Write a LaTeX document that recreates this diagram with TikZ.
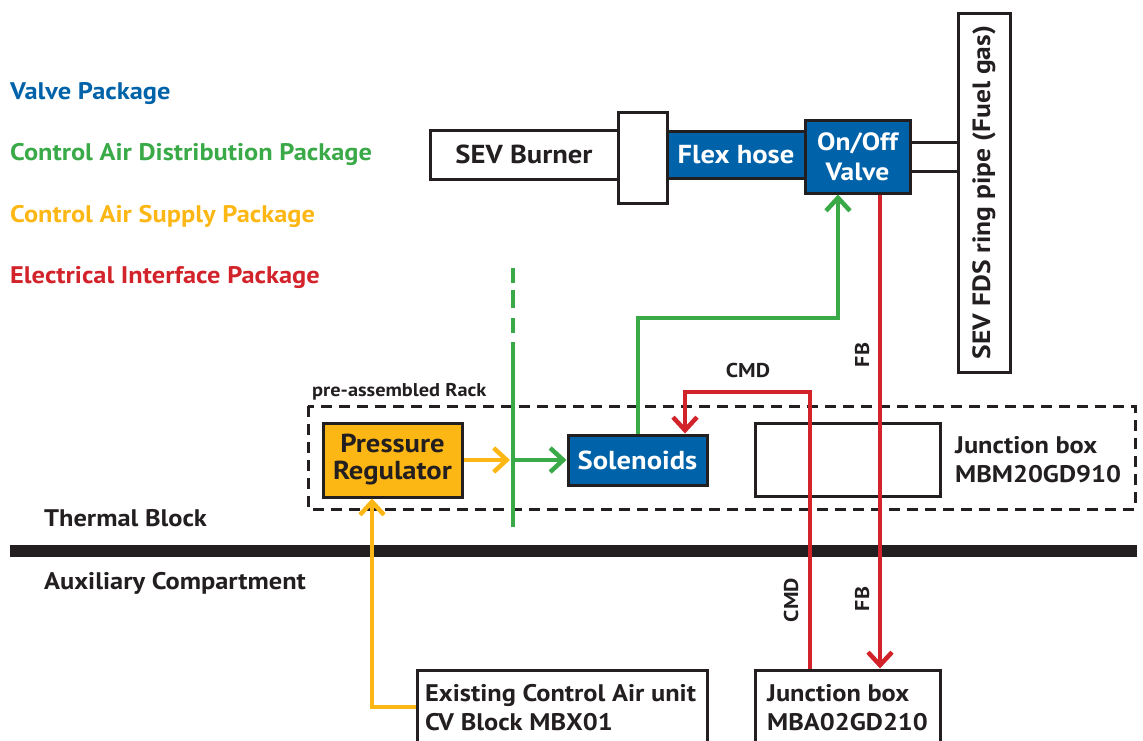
\documentclass[tikz,border=0pt]{standalone}
\usepackage{fontspec}
\setmainfont{PT Sans}[FakeStretch=1.1]
\usetikzlibrary{arrows.meta,calc}
\definecolor{vblue}{HTML}{0062A8}
\definecolor{cgreen}{HTML}{3AAA48}
\definecolor{corange}{HTML}{FDB714}
\definecolor{cred}{HTML}{D2232A}
\definecolor{ink}{HTML}{231F20}
\tikzset{
  box/.style={draw=ink,line width=3pt,inner sep=0pt,font=\bfseries\fontsize{26}{28}\selectfont,text=ink,align=center},
  bluebox/.style={box,fill=vblue,text=white},
  lbl/.style={font=\bfseries\fontsize{24}{29}\selectfont,text=ink,inner sep=0pt,align=left},
  small/.style={font=\bfseries\fontsize{20}{22}\selectfont,text=ink,inner sep=0pt},
  legend/.style={font=\bfseries\fontsize{24}{26}\selectfont,inner sep=0pt,anchor=base west},
  conn/.style={line width=4.5pt},
  tip/.style={-{Straight Barb[length=13pt,width=24pt,line width=4.5pt]}}
}
\begin{document}
\begin{tikzpicture}[x=1pt,y=-1pt]
\useasboundingbox (0,0) rectangle (1143,740);
% legend
\node[legend,text=vblue] (l1) at (10,99) {Valve Package};
\node[legend,text=cgreen] (l2) at (10,160) {Control Air Distribution Package};
\node[legend,text=corange] (l3) at (10,222) {Control Air Supply Package};
\node[legend,text=cred] (l4) at (10,283) {Electrical Interface Package};
% top row
\node[box,fill=white,minimum width=192pt,minimum height=49pt] (burner) at (526,154.5) {\hspace*{-4pt}SEV Burner};
\node[box,fill=white,minimum width=49pt,minimum height=91pt] (flange) at (642.5,157.5) {};
\node[bluebox,minimum width=138pt,minimum height=47pt] (hose) at (736,154.5) {Flex hose};
\node[box,fill=white,minimum width=52pt,minimum height=359pt] (ring) at (984,192.5) {};
\node[font=\bfseries\fontsize{25}{27}\selectfont,text=ink,rotate=90] (ringt) at (ring.center) {SEV FDS ring pipe (Fuel gas)};
\coordinate (p1) at (910,142);
\coordinate (p2) at (910,171);
\draw[draw=ink,line width=3pt] (p1) -- (p1 -| ring.west);
\draw[draw=ink,line width=3pt] (p2) -- (p2 -| ring.west);
\node[bluebox,minimum width=105pt,minimum height=73pt,font=\bfseries\fontsize{25}{30}\selectfont] (valve) at (857.5,156.5) {On/Off\\Valve};
% rack
\draw[draw=ink,line width=3pt,dash pattern=on 11pt off 7pt] (308,406) rectangle (1135,509);
\node[small,anchor=base west,font=\bfseries\fontsize{18.5}{20}\selectfont] (racklbl) at (312,396) {pre-assembled Rack};
\node[box,fill=corange,minimum width=139pt,minimum height=74pt,font=\bfseries\fontsize{26}{27}\selectfont] (reg) at (392.5,460) {Pressure\\Regulator};
\node[bluebox,minimum width=139pt,minimum height=50pt] (sol) at (637.5,460) {Solenoids};
\node[box,fill=white,minimum width=185pt,minimum height=73pt] (jb1) at (847.5,459.5) {};
\node[lbl,anchor=west] (jb1t) at (955,460) {Junction box\\MBM20GD910};
% green dash-dot boundary
\coordinate (gtop) at (513,268);
\coordinate (gbot) at (513,527);
\coordinate (split) at (513,460);
\draw[cgreen,line width=4.5pt,dash pattern=on 15pt off 7pt on 18pt off 10pt on 15pt off 9pt on 300pt] (gtop) -- (gbot);
% areas
\node[lbl,anchor=base west] (thermal) at (44,526) {Thermal Block};
\node[lbl,anchor=base west] (aux) at (44,589) {Auxiliary Compartment};
\coordinate (wl) at (10,551);
\coordinate (wr) at (1137,551);
\draw[ink,line width=12pt] (wl) -- (wr);
% bottom boxes
\node[box,fill=white,minimum width=290pt,minimum height=82pt] (exist) at (562,711) {};
\node[lbl,anchor=west] (existt) at (425,707.5) {Existing Control Air unit\\CV Block MBX01};
\node[box,fill=white,minimum width=185pt,minimum height=82pt] (jb2) at (847.5,711) {};
\node[lbl,anchor=west] (jb2t) at (767,707.5) {Junction box\\MBA02GD210};
% connectors
\draw[corange,conn,tip] (reg.east) -- ($(split)+(-3,0)$);
\draw[cgreen,conn,tip] (split) -- (sol.west);
\coordinate (gc1) at (638,318);
\coordinate (gc2) at (838,318);
\draw[cgreen,conn,tip] (sol.north -| gc1) -- (gc1) -- (gc2) -- (valve.south -| gc2);
\coordinate (fbx) at (880,300);
\draw[cred,conn,tip] (valve.south -| fbx) -- (jb2.north -| fbx);
\coordinate (cc1) at (810,392);
\coordinate (cc2) at (685,392);
\draw[cred,conn,tip] (jb2.north -| cc1) -- (cc1) -- (cc2) -- (sol.north -| cc2);
\coordinate (oc1) at (372,707);
\draw[corange,conn,tip] (exist.west |- oc1) -- (oc1) -- (reg.south -| oc1);
% signal labels
\node[small] (cmd1) at (748,370) {CMD};
\node[small,rotate=90] (fb1) at (862,355) {FB};
\node[small,rotate=90] (cmd2) at (791,600) {CMD};
\node[small,rotate=90] (fb2) at (862,599) {FB};
\end{tikzpicture}
\end{document}
